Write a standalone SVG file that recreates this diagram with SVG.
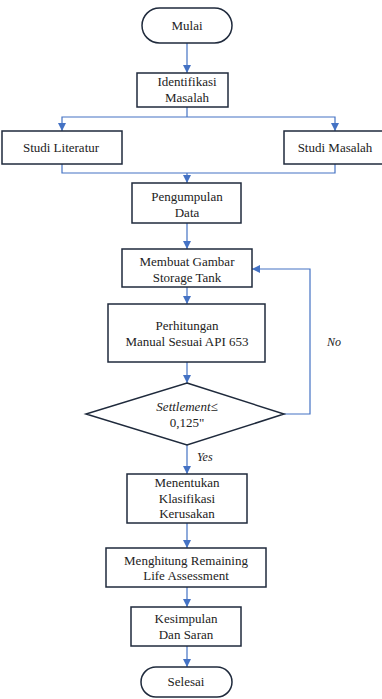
<svg xmlns="http://www.w3.org/2000/svg" width="382" height="699" viewBox="0 0 382 699">
<defs>
<marker id="ah" viewBox="0 0 8 8" refX="8" refY="4" markerWidth="8" markerHeight="8" markerUnits="userSpaceOnUse" orient="auto">
<path d="M0,0 L8,4 L0,8 Z" fill="#4472C4"/>
</marker>
<style>
.box{fill:#fff;stroke:#1f2a3c;stroke-width:1.5}
text{font-family:'Liberation Serif','Times New Roman',Tinos,'DejaVu Serif',serif}
.t{font-size:13px;fill:#222;text-anchor:middle}
.i{font-style:italic}
.c{fill:none;stroke:#4472C4;stroke-width:1.2}
.ca{fill:none;stroke:#4472C4;stroke-width:1.2;marker-end:url(#ah)}
.l{font-size:12px;font-style:italic;fill:#222}
</style>
</defs>
<rect width="382" height="699" fill="#fff"/>
<g id="connectors">
<line class="ca" x1="187" y1="43" x2="187" y2="73"/>
<polyline class="c" points="187,107 187,117"/>
<polyline class="ca" points="187,117 62,117 62,131"/>
<polyline class="ca" points="187,117 335,117 335,131"/>
<polyline class="c" points="62,164 62,173 335,173 335,164"/>
<line class="ca" x1="187" y1="173" x2="187" y2="183"/>
<line class="ca" x1="187" y1="223" x2="187" y2="249"/>
<line class="ca" x1="187" y1="287" x2="187" y2="304"/>
<line class="ca" x1="187" y1="362" x2="187" y2="383"/>
<polyline class="ca" points="284,414 310,414 310,269 252,269"/>
<line class="ca" x1="187" y1="445" x2="187" y2="474"/>
<line class="ca" x1="187" y1="523" x2="187" y2="548"/>
<line class="ca" x1="187" y1="587" x2="187" y2="607"/>
<line class="ca" x1="187" y1="646" x2="187" y2="667"/>
<text class="l" x="197" y="461" font-family="Liberation Serif, serif">Yes</text>
<text class="l" x="327" y="346" font-family="Liberation Serif, serif">No</text>
</g>
<g id="mulai">
<rect class="box" x="142" y="8" width="90" height="35" rx="17.5"/>
<text class="t" x="187" y="30">Mulai</text>
</g>
<g id="identifikasi">
<rect class="box" x="137" y="73" width="91" height="34"/>
<text class="t" x="187" y="86">Identifikasi</text>
<text class="t" x="187" y="102">Masalah</text>
</g>
<g id="studi-literatur">
<rect class="box" x="2" y="131" width="120" height="33"/>
<text class="t" x="61" y="152">Studi Literatur</text>
</g>
<g id="studi-masalah">
<rect class="box" x="284" y="131" width="104" height="33"/>
<text class="t" x="335" y="152">Studi Masalah</text>
</g>
<g id="pengumpulan">
<rect class="box" x="132" y="183" width="109" height="40"/>
<text class="t" x="187" y="201">Pengumpulan</text>
<text class="t" x="187" y="217">Data</text>
</g>
<g id="membuat">
<rect class="box" x="122" y="249" width="130" height="38"/>
<text class="t" x="187" y="266">Membuat Gambar</text>
<text class="t" x="187" y="282">Storage Tank</text>
</g>
<g id="perhitungan">
<rect class="box" x="108" y="304" width="157" height="58"/>
<text class="t" x="187" y="330">Perhitungan</text>
<text class="t" x="187" y="346">Manual Sesuai API 653</text>
</g>
<g id="settlement">
<polygon class="box" points="187,383 284,414 187,445 86,414"/>
<text class="t i" x="187" y="411">Settlement≤</text>
<text class="t" x="187" y="427">0,125"</text>
</g>
<g id="menentukan">
<rect class="box" x="127" y="474" width="120" height="49"/>
<text class="t" x="187" y="487">Menentukan</text>
<text class="t" x="187" y="503">Klasifikasi</text>
<text class="t" x="187" y="518">Kerusakan</text>
</g>
<g id="menghitung">
<rect class="box" x="106" y="548" width="160" height="39"/>
<text class="t" x="186" y="565">Menghitung Remaining</text>
<text class="t" x="186" y="580">Life Assessment</text>
</g>
<g id="kesimpulan">
<rect class="box" x="131" y="607" width="110" height="39"/>
<text class="t" x="186" y="623">Kesimpulan</text>
<text class="t" x="186" y="639">Dan Saran</text>
</g>
<g id="selesai">
<rect class="box" x="141" y="667" width="91" height="30" rx="15"/>
<text class="t" x="186" y="686">Selesai</text>
</g>
</svg>
